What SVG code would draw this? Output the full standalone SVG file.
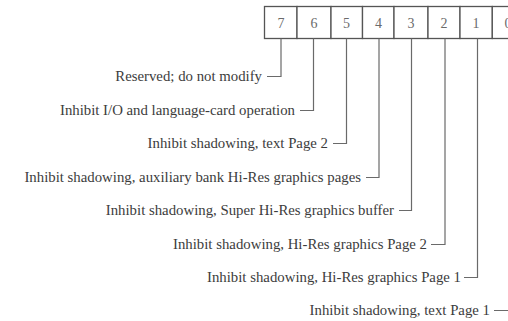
<svg xmlns="http://www.w3.org/2000/svg" width="508" height="321" viewBox="0 0 508 321">
  <style>
    .cell { fill: #ffffff; stroke: #555; stroke-width: 1.3; }
    .bit { font-family: "Liberation Serif", "DejaVu Serif", serif; font-size: 14px; fill: #6a6a6a; text-anchor: middle; }
    .lbl { font-family: "Liberation Serif", "DejaVu Serif", serif; font-size: 14.8px; fill: #3c3c3c; text-anchor: end; }
    .wire { fill: none; stroke: #6a6a6a; stroke-width: 1.2; }
  </style>
  <rect width="508" height="321" fill="#ffffff"/>

  <!-- register bit cells -->
  <g id="register">
    <rect class="cell" x="264.5" y="6.5" width="32.5" height="32"/>
    <rect class="cell" x="297" y="6.5" width="34" height="32"/>
    <rect class="cell" x="331" y="6.5" width="31.5" height="32"/>
    <rect class="cell" x="362.5" y="6.5" width="31.5" height="32"/>
    <rect class="cell" x="394" y="6.5" width="34" height="32"/>
    <rect class="cell" x="428" y="6.5" width="32" height="32"/>
    <rect class="cell" x="460" y="6.5" width="32.3" height="32"/>
    <rect class="cell" x="492.3" y="6.5" width="32" height="32"/>
    <text class="bit" x="281" y="28">7</text>
    <text class="bit" x="314" y="28">6</text>
    <text class="bit" x="346.5" y="28">5</text>
    <text class="bit" x="378.5" y="28">4</text>
    <text class="bit" x="411" y="28">3</text>
    <text class="bit" x="444" y="28">2</text>
    <text class="bit" x="476" y="28">1</text>
    <text class="bit" x="508" y="28">0</text>
  </g>

  <!-- leader lines from each bit to its description -->
  <g id="connectors">
    <polyline class="wire" points="281,38.5 281,76.5 267,76.5"/>
    <polyline class="wire" points="313.5,38.5 313.5,110.5 300,110.5"/>
    <polyline class="wire" points="346.5,38.5 346.5,143.5 333,143.5"/>
    <polyline class="wire" points="379,38.5 379,177.5 366,177.5"/>
    <polyline class="wire" points="411.5,38.5 411.5,210.5 399,210.5"/>
    <polyline class="wire" points="445,38.5 445,244.5 431,244.5"/>
    <polyline class="wire" points="477.5,38.5 477.5,277.5 464,277.5"/>
    <polyline class="wire" points="509,38.5 509,310.5 494,310.5"/>
  </g>

  <g id="bit7"><text class="lbl" x="262" y="81">Reserved; do not modify</text></g>
  <g id="bit6"><text class="lbl" x="295" y="115">Inhibit I/O and language-card operation</text></g>
  <g id="bit5"><text class="lbl" x="328" y="148">Inhibit shadowing, text Page 2</text></g>
  <g id="bit4"><text class="lbl" x="361" y="182">Inhibit shadowing, auxiliary bank Hi-Res graphics pages</text></g>
  <g id="bit3"><text class="lbl" x="394" y="215">Inhibit shadowing, Super Hi-Res graphics buffer</text></g>
  <g id="bit2"><text class="lbl" x="427" y="249">Inhibit shadowing, Hi-Res graphics Page 2</text></g>
  <g id="bit1"><text class="lbl" x="461" y="282">Inhibit shadowing, Hi-Res graphics Page 1</text></g>
  <g id="bit0"><text class="lbl" x="490" y="315">Inhibit shadowing, text Page 1</text></g>
</svg>
